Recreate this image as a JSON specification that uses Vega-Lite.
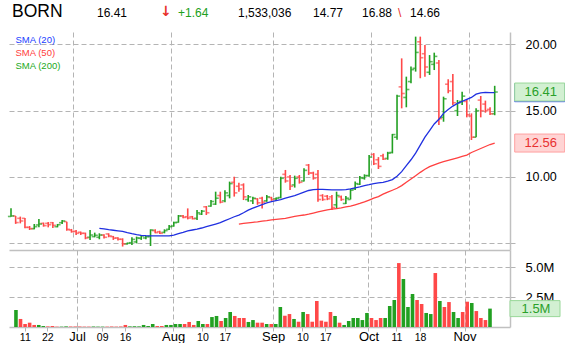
{
  "$schema": "https://vega.github.io/schema/vega-lite/v6.json",
  "background": "white",
  "padding": {"left": 6, "top": 0, "right": 0, "bottom": 0},
  "spacing": 0,
  "bounds": "flush",
  "resolve": {"scale": {"color": "independent"}, "legend": {"color": "independent"}},
  "config": {
    "view": {"stroke": null},
    "font": "Liberation Sans",
    "axis": {"gridColor": "#b4b4b4", "gridDash": [5, 3], "gridWidth": 1, "domainColor": "#c0c0c0", "domainWidth": 1.5, "tickColor": "#b4b4b4", "labelColor": "#000000", "labelFont": "Liberation Sans", "labelOverlap": false, "labelFlush": false, "labelBound": false}
  },
  "datasets": {
    "head": [
      {"k": 1, "t": "BORN"}, {"k": 2, "t": "16.41"}, {"k": 3, "t": "↓"}, {"k": 4, "t": "+1.64"},
      {"k": 5, "t": "1,533,036"}, {"k": 6, "t": "14.77"}, {"k": 7, "t": "16.88"}, {"k": 8, "t": "\\"}, {"k": 9, "t": "14.66"}
    ],
    "bars": [
      {"i":0,"open":7.02,"high":7.64,"low":7.0,"close":7.06,"volume":1420000},
      {"i":1,"open":7.06,"high":7.06,"low":6.46,"close":6.56,"volume":670000},
      {"i":2,"open":6.88,"high":7.01,"low":6.5,"close":6.68,"volume":250000},
      {"i":3,"open":6.88,"high":6.9,"low":6.13,"close":6.2,"volume":360000},
      {"i":4,"open":6.2,"high":6.3,"low":6.0,"close":6.1,"volume":170000},
      {"i":5,"open":6.1,"high":6.45,"low":6.05,"close":6.25,"volume":170000},
      {"i":6,"open":6.38,"high":6.83,"low":6.2,"close":6.45,"volume":80000},
      {"i":7,"open":6.5,"high":6.56,"low":6.25,"close":6.33,"volume":50000},
      {"i":8,"open":6.5,"high":6.6,"low":6.2,"close":6.4,"volume":80000},
      {"i":9,"open":6.55,"high":6.6,"low":6.15,"close":6.35,"volume":30000},
      {"i":10,"open":6.25,"high":6.45,"low":6.2,"close":6.4,"volume":30000},
      {"i":11,"open":6.55,"high":6.76,"low":6.45,"close":6.68,"volume":50000},
      {"i":12,"open":6.63,"high":6.63,"low":5.95,"close":6.05,"volume":40000},
      {"i":13,"open":6.0,"high":6.08,"low":5.8,"close":5.88,"volume":40000},
      {"i":14,"open":5.9,"high":6.0,"low":5.62,"close":5.75,"volume":40000},
      {"i":15,"open":5.83,"high":5.88,"low":5.62,"close":5.75,"volume":30000},
      {"i":16,"open":5.75,"high":5.8,"low":5.3,"close":5.4,"volume":30000},
      {"i":17,"open":5.45,"high":6.0,"low":5.25,"close":5.62,"volume":40000},
      {"i":18,"open":5.5,"high":5.8,"low":5.45,"close":5.6,"volume":30000},
      {"i":19,"open":5.45,"high":5.75,"low":5.3,"close":5.62,"volume":30000,"sma20":6.12},
      {"i":20,"open":5.62,"high":5.67,"low":5.35,"close":5.45,"volume":30000,"sma20":6.08},
      {"i":21,"open":5.7,"high":5.75,"low":5.45,"close":5.55,"volume":40000,"sma20":6.02},
      {"i":22,"open":5.5,"high":5.55,"low":5.25,"close":5.38,"volume":30000,"sma20":5.98},
      {"i":23,"open":5.4,"high":5.45,"low":5.2,"close":5.3,"volume":40000,"sma20":5.94},
      {"i":24,"open":5.3,"high":5.37,"low":4.75,"close":4.95,"volume":170000,"sma20":5.9},
      {"i":25,"open":4.95,"high":5.05,"low":4.9,"close":5.0,"volume":50000,"sma20":5.8},
      {"i":26,"open":5.04,"high":5.45,"low":4.87,"close":5.29,"volume":60000,"sma20":5.72},
      {"i":27,"open":5.1,"high":5.5,"low":4.99,"close":5.4,"volume":50000,"sma20":5.65},
      {"i":28,"open":5.37,"high":5.62,"low":5.25,"close":5.55,"volume":170000,"sma20":5.6},
      {"i":29,"open":5.4,"high":5.55,"low":5.3,"close":5.5,"volume":80000,"sma20":5.57},
      {"i":30,"open":5.5,"high":6.05,"low":4.79,"close":6.0,"volume":250000,"sma20":5.55},
      {"i":31,"open":5.95,"high":6.05,"low":5.75,"close":5.8,"volume":80000,"sma20":5.55},
      {"i":32,"open":5.87,"high":5.95,"low":5.7,"close":5.75,"volume":80000,"sma20":5.55},
      {"i":33,"open":5.82,"high":6.05,"low":5.75,"close":5.95,"volume":170000,"sma20":5.55},
      {"i":34,"open":6.05,"high":6.38,"low":6.0,"close":6.25,"volume":170000,"sma20":5.56},
      {"i":35,"open":6.3,"high":6.63,"low":6.25,"close":6.55,"volume":250000,"sma20":5.62},
      {"i":36,"open":6.58,"high":7.13,"low":6.55,"close":7.06,"volume":250000,"sma20":5.72},
      {"i":37,"open":7.06,"high":7.13,"low":6.88,"close":6.95,"volume":250000,"sma20":5.82},
      {"i":38,"open":7.0,"high":7.63,"low":6.8,"close":6.9,"volume":420000,"sma20":5.93},
      {"i":39,"open":7.0,"high":7.06,"low":6.8,"close":6.85,"volume":170000,"sma20":6.0},
      {"i":40,"open":6.88,"high":7.51,"low":6.75,"close":7.3,"volume":500000,"sma20":6.06},
      {"i":41,"open":7.2,"high":7.51,"low":7.13,"close":7.42,"volume":250000,"sma20":6.15},
      {"i":42,"open":7.75,"high":7.81,"low":7.13,"close":7.3,"volume":250000,"sma20":6.25},
      {"i":43,"open":7.8,"high":8.26,"low":7.75,"close":8.15,"volume":830000,"sma20":6.35},
      {"i":44,"open":7.95,"high":8.89,"low":7.89,"close":8.4,"volume":920000,"sma20":6.45},
      {"i":45,"open":8.6,"high":8.89,"low":8.01,"close":8.1,"volume":500000,"sma20":6.55},
      {"i":46,"open":8.2,"high":9.0,"low":8.1,"close":8.8,"volume":750000,"sma20":6.7},
      {"i":47,"open":8.6,"high":9.65,"low":8.39,"close":9.5,"volume":1250000,"sma20":6.85},
      {"i":48,"open":9.6,"high":10.02,"low":8.52,"close":8.8,"volume":920000,"sma20":7.0},
      {"i":49,"open":9.3,"high":9.57,"low":8.89,"close":9.1,"volume":750000,"sma20":7.12,"sma50":6.45},
      {"i":50,"open":9.4,"high":9.52,"low":8.26,"close":8.5,"volume":750000,"sma20":7.3,"sma50":6.5},
      {"i":51,"open":8.3,"high":8.64,"low":8.14,"close":8.5,"volume":420000,"sma20":7.5,"sma50":6.54},
      {"i":52,"open":8.2,"high":8.5,"low":7.96,"close":8.4,"volume":580000,"sma20":7.65,"sma50":6.58},
      {"i":53,"open":8.35,"high":8.4,"low":7.9,"close":8.05,"volume":360000,"sma20":7.78,"sma50":6.62},
      {"i":54,"open":8.4,"high":8.51,"low":7.63,"close":8.1,"volume":360000,"sma20":7.92,"sma50":6.67},
      {"i":55,"open":8.2,"high":8.64,"low":8.14,"close":8.5,"volume":250000,"sma20":8.05,"sma50":6.71},
      {"i":56,"open":8.45,"high":8.5,"low":8.2,"close":8.3,"volume":250000,"sma20":8.14,"sma50":6.76},
      {"i":57,"open":8.35,"high":8.45,"low":8.2,"close":8.4,"volume":250000,"sma20":8.22,"sma50":6.8},
      {"i":58,"open":8.45,"high":10.02,"low":8.39,"close":9.9,"volume":1670000,"sma20":8.3,"sma50":6.84},
      {"i":59,"open":10.2,"high":10.53,"low":9.57,"close":9.7,"volume":940000,"sma20":8.4,"sma50":6.88},
      {"i":60,"open":10.0,"high":10.15,"low":9.02,"close":9.3,"volume":1080000,"sma20":8.5,"sma50":6.95},
      {"i":61,"open":9.4,"high":10.1,"low":9.2,"close":9.9,"volume":670000,"sma20":8.6,"sma50":7.02},
      {"i":62,"open":10.0,"high":10.15,"low":9.5,"close":9.6,"volume":440000,"sma20":8.72,"sma50":7.08},
      {"i":63,"open":9.7,"high":10.65,"low":9.65,"close":10.5,"volume":1250000,"sma20":8.85,"sma50":7.13},
      {"i":64,"open":10.9,"high":10.98,"low":10.15,"close":10.3,"volume":1080000,"sma20":8.98,"sma50":7.2},
      {"i":65,"open":10.3,"high":10.4,"low":9.8,"close":9.9,"volume":440000,"sma20":9.05,"sma50":7.28},
      {"i":66,"open":10.2,"high":10.53,"low":8.14,"close":8.3,"volume":2170000,"sma20":9.07,"sma50":7.36},
      {"i":67,"open":8.6,"high":8.7,"low":8.2,"close":8.3,"volume":530000,"sma20":9.06,"sma50":7.44},
      {"i":68,"open":8.55,"high":8.64,"low":8.25,"close":8.35,"volume":440000,"sma20":9.04,"sma50":7.52},
      {"i":69,"open":8.5,"high":8.64,"low":7.51,"close":7.7,"volume":1250000,"sma20":9.02,"sma50":7.57},
      {"i":70,"open":7.9,"high":8.89,"low":7.63,"close":8.6,"volume":920000,"sma20":9.02,"sma50":7.62},
      {"i":71,"open":8.5,"high":8.6,"low":8.2,"close":8.3,"volume":360000,"sma20":9.03,"sma50":7.67},
      {"i":72,"open":8.0,"high":8.56,"low":7.96,"close":8.4,"volume":170000,"sma20":9.05,"sma50":7.74},
      {"i":73,"open":8.3,"high":9.1,"low":8.3,"close":9.0,"volume":500000,"sma20":9.1,"sma50":7.8},
      {"i":74,"open":9.1,"high":9.65,"low":9.02,"close":9.5,"volume":750000,"sma20":9.18,"sma50":7.9},
      {"i":75,"open":9.45,"high":10.07,"low":9.4,"close":9.95,"volume":750000,"sma20":9.25,"sma50":8.0},
      {"i":76,"open":9.9,"high":10.2,"low":9.8,"close":10.1,"volume":580000,"sma20":9.35,"sma50":8.12},
      {"i":77,"open":10.1,"high":11.66,"low":10.02,"close":11.5,"volume":1170000,"sma20":9.42,"sma50":8.26},
      {"i":78,"open":11.7,"high":11.8,"low":10.9,"close":11.0,"volume":750000,"sma20":9.5,"sma50":8.4},
      {"i":79,"open":11.3,"high":11.5,"low":10.6,"close":10.8,"volume":580000,"sma20":9.55,"sma50":8.52},
      {"i":80,"open":11.6,"high":11.75,"low":11.28,"close":11.35,"volume":750000,"sma20":9.6,"sma50":8.7},
      {"i":81,"open":11.4,"high":11.9,"low":11.3,"close":11.8,"volume":750000,"sma20":9.68,"sma50":8.85},
      {"i":82,"open":11.85,"high":13.25,"low":11.78,"close":13.2,"volume":1750000,"sma20":9.8,"sma50":9.0},
      {"i":83,"open":13.0,"high":16.2,"low":12.8,"close":16.1,"volume":2250000,"sma20":10.05,"sma50":9.15},
      {"i":84,"open":16.8,"high":18.95,"low":15.18,"close":16.3,"volume":5330000,"sma20":10.4,"sma50":9.35},
      {"i":85,"open":16.0,"high":17.57,"low":15.26,"close":16.6,"volume":4000000,"sma20":10.85,"sma50":9.6},
      {"i":86,"open":17.2,"high":18.33,"low":17.07,"close":18.1,"volume":1670000,"sma20":11.3,"sma50":9.85},
      {"i":87,"open":18.2,"high":20.59,"low":17.95,"close":19.4,"volume":2750000,"sma20":11.8,"sma50":10.1},
      {"i":88,"open":20.2,"high":20.59,"low":17.45,"close":19.0,"volume":2250000,"sma20":12.4,"sma50":10.35},
      {"i":89,"open":19.3,"high":19.96,"low":17.57,"close":18.3,"volume":1920000,"sma20":13.0,"sma50":10.58},
      {"i":90,"open":17.9,"high":19.2,"low":17.7,"close":18.7,"volume":1170000,"sma20":13.5,"sma50":10.78},
      {"i":91,"open":18.5,"high":19.38,"low":18.07,"close":19.1,"volume":1080000,"sma20":14.0,"sma50":10.92},
      {"i":92,"open":18.6,"high":18.83,"low":13.92,"close":14.4,"volume":4500000,"sma20":14.35,"sma50":11.05},
      {"i":93,"open":14.5,"high":16.06,"low":14.17,"close":15.9,"volume":2170000,"sma20":14.8,"sma50":11.15},
      {"i":94,"open":17.0,"high":17.37,"low":16.31,"close":16.5,"volume":1670000,"sma20":15.1,"sma50":11.25},
      {"i":95,"open":17.2,"high":17.77,"low":15.43,"close":15.6,"volume":2080000,"sma20":15.35,"sma50":11.35},
      {"i":96,"open":15.0,"high":15.81,"low":14.6,"close":15.6,"volume":1250000,"sma20":15.55,"sma50":11.45},
      {"i":97,"open":15.7,"high":16.44,"low":15.43,"close":16.1,"volume":750000,"sma20":15.7,"sma50":11.55},
      {"i":98,"open":15.7,"high":15.86,"low":14.5,"close":14.7,"volume":1250000,"sma20":15.85,"sma50":11.65},
      {"i":99,"open":14.6,"high":14.8,"low":12.79,"close":13.0,"volume":2110000,"sma20":16.0,"sma50":11.85},
      {"i":100,"open":13.0,"high":15.18,"low":12.99,"close":15.0,"volume":2000000,"sma20":16.25,"sma50":12.0},
      {"i":101,"open":15.8,"high":16.11,"low":14.5,"close":15.0,"volume":1330000,"sma20":16.35,"sma50":12.15},
      {"i":102,"open":15.5,"high":15.76,"low":14.85,"close":15.0,"volume":750000,"sma20":16.38,"sma50":12.3},
      {"i":103,"open":15.1,"high":15.26,"low":14.68,"close":14.77,"volume":580000,"sma20":16.36,"sma50":12.45},
      {"i":104,"open":14.77,"high":16.88,"low":14.66,"close":16.41,"volume":1533036,"sma20":16.36,"sma50":12.56}
    ]
  },
  "vconcat": [
    {
      "width": 501,
      "height": 32,
      "data": {"name": "head"},
      "encoding": {
        "x": {"field": "k", "type": "quantitative", "scale": {"domain": [1, 2, 3, 4, 5, 6, 7, 8, 9], "range": [3, 88, 151, 169, 229, 304, 353, 389, 401], "nice": false, "zero": false}, "axis": null},
        "text": {"field": "t", "type": "nominal"}
      },
      "layer": [
        {
          "transform": [{"filter": "datum.k == 1"}],
          "mark": {"type": "text", "align": "left", "baseline": "middle", "fontSize": 17.5, "dy": -4, "color": "#000000"}
        },
        {
          "transform": [{"filter": "datum.k == 3"}],
          "mark": {"type": "text", "align": "left", "baseline": "middle", "fontSize": 14, "dy": -4, "font": "DejaVu Sans", "fontWeight": "bold", "color": "#e8302a"}
        },
        {
          "transform": [{"filter": "datum.k > 1 && datum.k != 3"}],
          "mark": {"type": "text", "align": "left", "baseline": "middle", "fontSize": 12, "dy": -3},
          "encoding": {
            "color": {"field": "k", "type": "nominal", "scale": {"domain": [2, 4, 5, 6, 7, 8, 9], "range": ["#000000", "#20a020", "#000000", "#000000", "#000000", "#e8302a", "#000000"]}, "legend": null}
          }
        }
      ]
    },
    {
      "width": 501,
      "height": 218,
      "data": {"name": "bars"},
      "encoding": {
        "x": {"field": "i", "type": "quantitative", "title": null, "scale": {"domain": [-0.43, 107.29], "nice": false, "zero": false},
          "axis": {"orient": "bottom", "values": [13.4, 34.47, 56.4, 77.34, 98.41], "labels": false, "ticks": false, "grid": true, "domain": true}}
      },
      "layer": [
        {
          "mark": {"type": "rule", "strokeWidth": 1.6},
          "encoding": {
            "y": {"field": "low", "type": "quantitative", "title": null, "scale": {"domain": [4.49, 20.94], "nice": false, "zero": false},
              "axis": {"orient": "right", "values": [5, 7.5, 10, 12.5, 15, 17.5, 20], "labelExpr": "(datum.value == 5 || datum.value == 12.5) ? '' : format(datum.value, '.2f')", "grid": true, "tickSize": 5, "labelPadding": 10, "labelFontSize": 12.5, "domain": true}},
            "y2": {"field": "high"},
            "color": {"condition": {"test": "datum.close >= datum.open", "value": "#22a022"}, "value": "#ff4848"}
          }
        },
        {
          "mark": {"type": "tick", "orient": "horizontal", "size": 3, "thickness": 1.6, "xOffset": -1.6},
          "encoding": {
            "y": {"field": "open", "type": "quantitative", "title": null},
            "color": {"condition": {"test": "datum.close >= datum.open", "value": "#22a022"}, "value": "#ff4848"}
          }
        },
        {
          "mark": {"type": "tick", "orient": "horizontal", "size": 3, "thickness": 1.6, "xOffset": 1.6},
          "encoding": {
            "y": {"field": "close", "type": "quantitative", "title": null},
            "color": {"condition": {"test": "datum.close >= datum.open", "value": "#22a022"}, "value": "#ff4848"}
          }
        },
        {
          "mark": {"type": "line", "strokeWidth": 1.3},
          "encoding": {
            "y": {"field": "sma20", "type": "quantitative", "title": null},
            "color": {"datum": "SMA (20)", "type": "nominal",
              "scale": {"domain": ["SMA (20)", "SMA (50)", "SMA (200)"], "range": ["#2030e0", "#ff4040", "#22aa22"]},
              "legend": {"orient": "none", "legendX": -3, "legendY": 3, "title": null, "padding": 0, "symbolOpacity": 0, "symbolSize": 0, "symbolStrokeWidth": 0, "labelOffset": 0, "labelFontSize": 9.5, "rowPadding": 2,
                "encode": {"labels": {"update": {"fill": {"signal": "datum.value === 'SMA (20)' ? '#2040ff' : (datum.value === 'SMA (50)' ? '#ff4040' : '#22aa22')"}}}}}}
          }
        },
        {
          "mark": {"type": "line", "strokeWidth": 1.3},
          "encoding": {
            "y": {"field": "sma50", "type": "quantitative", "title": null},
            "color": {"datum": "SMA (50)", "type": "nominal"}
          }
        },
        {
          "transform": [{"filter": "datum.i == 104"}],
          "mark": {"type": "point", "shape": "M-1,-0.36L1,-0.36L1,0.36L-1,0.36Z", "size": 2500, "filled": true, "fill": "#d6dcff", "stroke": "#4050ff", "strokeWidth": 1, "opacity": 1, "xOffset": 45},
          "encoding": {"y": {"field": "sma20", "type": "quantitative", "title": null}}
        },
        {
          "transform": [{"filter": "datum.i == 104"}],
          "mark": {"type": "point", "shape": "M-1,-0.36L1,-0.36L1,0.36L-1,0.36Z", "size": 2500, "filled": true, "fill": "#ffd4d4", "stroke": "#ffa0a0", "strokeWidth": 1, "opacity": 1, "xOffset": 45},
          "encoding": {"y": {"field": "sma50", "type": "quantitative", "title": null}}
        },
        {
          "transform": [{"filter": "datum.i == 104"}],
          "mark": {"type": "point", "shape": "M-1,-0.36L1,-0.36L1,0.36L-1,0.36Z", "size": 2500, "filled": true, "fill": "#d2f0d2", "stroke": "#98d898", "strokeWidth": 1, "opacity": 1, "xOffset": 45},
          "encoding": {"y": {"field": "close", "type": "quantitative", "title": null}}
        },
        {
          "transform": [{"filter": "datum.i == 104"}],
          "mark": {"type": "text", "dx": 46, "fontSize": 13, "align": "center", "baseline": "middle", "color": "#2aa02a"},
          "encoding": {"y": {"field": "close", "type": "quantitative", "title": null}, "text": {"field": "close", "type": "quantitative", "format": ".2f"}}
        },
        {
          "transform": [{"filter": "datum.i == 104"}],
          "mark": {"type": "text", "dx": 46, "fontSize": 13, "align": "center", "baseline": "middle", "color": "#e83030"},
          "encoding": {"y": {"field": "sma50", "type": "quantitative", "title": null}, "text": {"field": "sma50", "type": "quantitative", "format": ".2f"}}
        }
      ]
    },
    {
      "width": 501,
      "height": 77,
      "data": {"name": "bars"},
      "encoding": {
        "x": {"field": "i", "type": "quantitative", "title": null, "scale": {"domain": [-0.43, 107.29], "nice": false, "zero": false},
          "axis": {"orient": "bottom", "domain": true, "grid": true,
            "values": [1.94, 6.88, 13.4, 18.92, 23.93, 34.47, 40.9, 45.8, 56.4, 62.85, 67.88, 77.34, 83.48, 88.65, 98.41],
            "labelExpr": "['11','22','Jul','09','16','Aug','10','17','Sep','10','17','Oct','11','18','Nov'][indexof([1.94, 6.88, 13.4, 18.92, 23.93, 34.47, 40.9, 45.8, 56.4, 62.85, 67.88, 77.34, 83.48, 88.65, 98.41], datum.value)]",
            "gridOpacity": {"condition": {"test": "indexof([13.4, 34.47, 56.4, 77.34, 98.41], datum.value) >= 0", "value": 1}, "value": 0},
            "labelFontSize": {"condition": {"test": "indexof([13.4, 34.47, 56.4, 77.34, 98.41], datum.value) >= 0", "value": 13}, "value": 10.5},
            "tickSize": 4, "labelPadding": 9, "labelBaseline": "alphabetic", "labelAlign": "center"}}
      },
      "layer": [
        {
          "mark": {"type": "bar", "width": 3.6},
          "encoding": {
            "y": {"field": "volume", "type": "quantitative", "title": null, "scale": {"domain": [0, 6420000], "nice": false, "zero": true},
              "axis": {"orient": "right", "values": [2500000, 5000000], "format": ".2s", "grid": true, "tickSize": 5, "labelPadding": 10, "labelFontSize": 13, "domain": true}},
            "color": {"condition": {"test": "datum.close >= datum.open", "value": "#22a022"}, "value": "#ff4848"}
          }
        },
        {
          "transform": [{"filter": "datum.i == 104"}],
          "mark": {"type": "point", "shape": "M-1,-0.32L1,-0.32L1,0.32L-1,0.32Z", "size": 2500, "filled": true, "fill": "#d2f0d2", "stroke": "#98d898", "strokeWidth": 1, "opacity": 1, "xOffset": 45},
          "encoding": {"y": {"field": "volume", "type": "quantitative", "title": null}}
        },
        {
          "transform": [{"filter": "datum.i == 104"}],
          "mark": {"type": "text", "dx": 46, "fontSize": 13, "align": "center", "baseline": "middle", "color": "#2aa02a"},
          "encoding": {"y": {"field": "volume", "type": "quantitative", "title": null}, "text": {"field": "volume", "type": "quantitative", "format": ".2s"}}
        }
      ]
    }
  ]
}
